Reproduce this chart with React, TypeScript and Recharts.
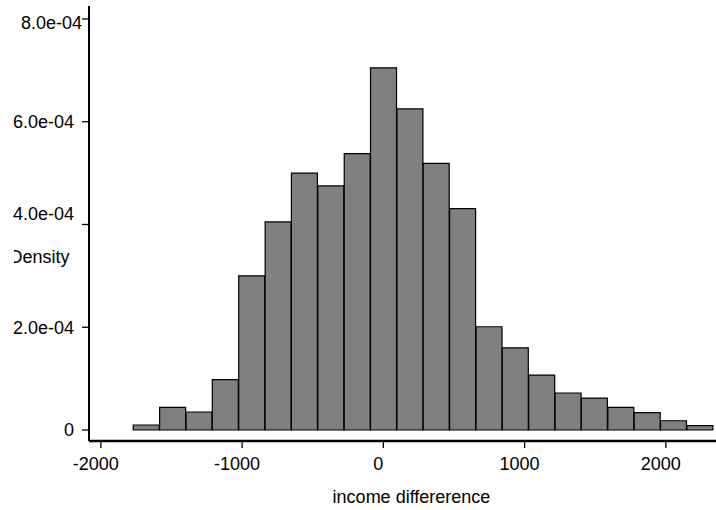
import { Bar, BarChart, XAxis, YAxis } from "recharts";

// histogram of income difference, 22 equal bins
const binCenters = [
  -1678, -1491, -1304, -1118, -931, -744, -558, -371, -184, 2, 189, 375, 562,
  749, 935, 1122, 1309, 1495, 1682, 1869, 2055, 2242,
];
const densities = [
  9.7e-6, 4.42e-5, 3.5e-5, 9.8e-5, 3.0e-4, 4.05e-4, 5.0e-4, 4.75e-4, 5.38e-4,
  7.05e-4, 6.25e-4, 5.19e-4, 4.31e-4, 2.01e-4, 1.6e-4, 1.07e-4, 7.2e-5,
  6.2e-5, 4.4e-5, 3.4e-5, 1.8e-5, 8.4e-6,
];
const xTicks = [-2000, -1000, 0, 1000, 2000];
const yTicks = [0, 2e-4, 4e-4, 6e-4, 8e-4];
const xDomain = [-2084, 2355];
const yDomain = [-2.141e-5, 8.253e-4];

const FONT = "'Liberation Sans', Arial, Helvetica, sans-serif";

// bars run from 0 up, the axis sits a little below zero
const data = binCenters.map((x, i) => ({ x, density: [0, densities[i]] }));

function fmtDensity(v: number) {
  if (v === 0) return "0";
  const [m, e] = v.toExponential(1).split("e");
  const sign = e[0] === "-" ? "-" : "+";
  const digits = e.replace(/^[-+]/, "").padStart(2, "0");
  return `${m}e${sign}${digits}`;
}

function YTick(props: any) {
  const { x, y, payload } = props;
  const v = payload.value;
  let dx = 0;
  let dy = 0;
  // stata nudges a couple of labels
  if (v === 8e-4) {
    dx = 8;
    dy = 4;
  }
  if (v === 4e-4) dy = -11;
  return (
    <text
      x={x + dx}
      y={y + dy}
      dy="0.355em"
      textAnchor="end"
      fontSize={18}
      fontFamily={FONT}
      fill="#000"
    >
      {fmtDensity(v)}
    </text>
  );
}

function XTick(props: any) {
  const { x, y, payload } = props;
  return (
    <text
      x={x - 5}
      y={y}
      dy="0.71em"
      textAnchor="middle"
      fontSize={18}
      fontFamily={FONT}
      fill="#000"
    >
      {payload.value}
    </text>
  );
}

export default function App() {
  return (
    <div
      style={{
        position: "absolute",
        left: 0,
        top: 0,
        width: 716,
        height: 510,
        background: "#fff",
        fontFamily: FONT,
      }}
    >
      <BarChart
        width={716}
        height={510}
        data={data}
        margin={{ top: 6, right: 0, left: 0, bottom: 0 }}
        barCategoryGap={0}
        barGap={0}
      >
        <XAxis
          dataKey="x"
          type="number"
          domain={xDomain}
          allowDataOverflow
          ticks={xTicks}
          interval={0}
          height={69}
          tickSize={7}
          tickMargin={9}
          tick={<XTick />}
          axisLine={{ stroke: "#000", strokeWidth: 2.5 }}
          tickLine={{ stroke: "#000", strokeWidth: 1.3 }}
          label={{
            value: "income differerence",
            position: "insideBottom",
            offset: 7,
            dx: 9,
            fontSize: 18,
            fontFamily: FONT,
            fill: "#000",
          }}
        />
        <XAxis
          xAxisId="top"
          orientation="top"
          type="number"
          domain={xDomain}
          allowDataOverflow
          height={0}
          tick={false}
          tickLine={false}
          axisLine={{ stroke: "#000", strokeWidth: 2 }}
        />
        <YAxis
          type="number"
          domain={yDomain}
          allowDataOverflow
          ticks={yTicks}
          interval={0}
          width={89}
          tickSize={7}
          tickMargin={8}
          tick={<YTick />}
          axisLine={{ stroke: "#000", strokeWidth: 2 }}
          tickLine={{ stroke: "#000", strokeWidth: 1.3 }}
        />
        <Bar
          dataKey="density"
          fill="#808080"
          stroke="#000"
          strokeWidth={1.2}
          isAnimationActive={false}
        />
      </BarChart>
      <div
        style={{
          position: "absolute",
          left: 13.5,
          top: 247,
          width: 56,
          height: 22,
          overflow: "hidden",
        }}
      >
        <span
          style={{
            position: "absolute",
            right: 0,
            top: 0,
            fontSize: 18,
            lineHeight: "20px",
            color: "#000",
            whiteSpace: "nowrap",
          }}
        >
          Density
        </span>
      </div>
    </div>
  );
}
